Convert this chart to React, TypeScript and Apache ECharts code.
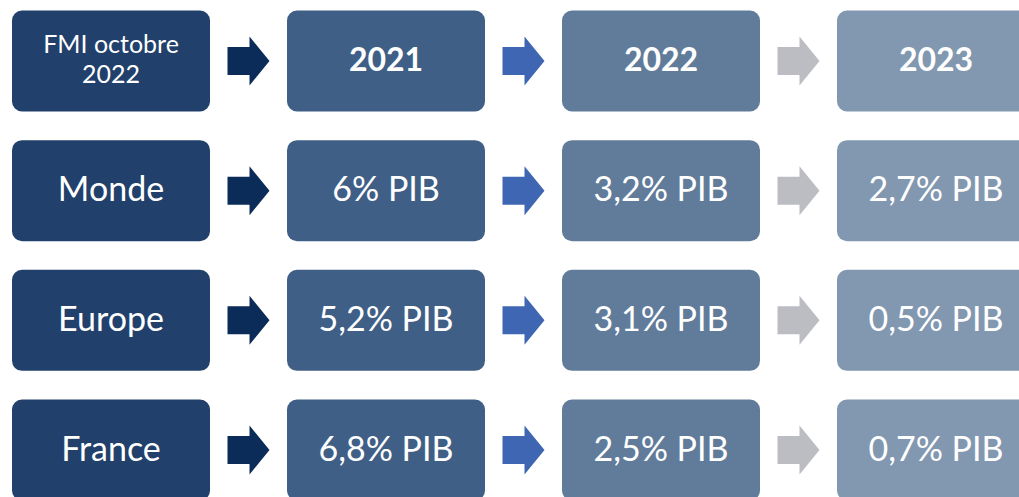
import React, { useEffect, useRef } from "react";
import * as echarts from "echarts";

// Column headers (first row) and row labels (first column)
const headers = ["FMI octobre\n2022", "2021", "2022", "2023"];
const regions = ["Monde", "Europe", "France"];
// Growth forecasts, % of GDP
const growth2021 = [6, 5.2, 6.8];
const growth2022 = [3.2, 3.1, 2.5];
const growth2023 = [2.7, 0.5, 0.7];

const boxColors = ["#21406B", "#3F5F86", "#617C9A", "#8297B0"];
const arrowColors = ["#0B2B58", "#3E66B2", "#BCBCC3"];

const fmt = (v: number) => String(v).replace(".", ",") + "% PIB";

export default function App() {
  const ref = useRef<HTMLDivElement>(null);
  useEffect(() => {
    if (!ref.current) return;
    const chart = echarts.init(ref.current, null, { renderer: "svg" });
    const rowsCat = ["header", ...regions];
    const cols = [0, 1, 2, 3];
    const data: any[] = [];
    headers.forEach((h, c) => data.push({ value: [c, 0], label: h, header: true }));
    regions.forEach((r, i) => {
      data.push({ value: [0, i + 1], label: r, header: false });
      data.push({ value: [1, i + 1], label: fmt(growth2021[i]), header: false });
      data.push({ value: [2, i + 1], label: fmt(growth2022[i]), header: false });
      data.push({ value: [3, i + 1], label: fmt(growth2023[i]), header: false });
    });
    const W = 198;
    const H = 101;
    chart.setOption({
      animation: false,
      grid: { left: 111, right: 83, top: 61, bottom: 47 },
      xAxis: {
        type: "category",
        data: cols,
        boundaryGap: false,
        show: false,
      },
      yAxis: {
        type: "category",
        data: rowsCat,
        boundaryGap: false,
        inverse: true,
        show: false,
      },
      series: [
        {
          type: "custom",
          clip: false,
          data,
          renderItem: (params: any, api: any) => {
            const c = api.value(0);
            const r = api.value(1);
            const item = data[params.dataIndex];
            const [cx, cy] = api.coord([c, r]);
            const children: any[] = [
              {
                type: "rect",
                shape: { x: cx - W / 2, y: cy - H / 2, width: W, height: H, r: 10 },
                style: { fill: boxColors[c] },
              },
            ];
            let font = "34px Lato";
            let lineHeight = 40;
            if (item.header && c === 0) {
              font = "25px Lato";
              lineHeight = 30;
            } else if (item.header) {
              font = "bold 32px Lato";
            }
            children.push({
              type: "text",
              x: cx,
              y: cy - 3,
              style: {
                text: item.label,
                fill: "#FFFFFF",
                font,
                lineHeight,
                align: "center",
                verticalAlign: "middle",
              },
            });
            if (c < 3) {
              const [nx] = api.coord([c + 1, r]);
              const mx = (cx + nx) / 2;
              const hw = 21;
              const neck = mx + 1;
              children.push({
                type: "polygon",
                shape: {
                  points: [
                    [mx - hw, cy - 14],
                    [neck, cy - 14],
                    [neck, cy - 24.5],
                    [mx + hw, cy],
                    [neck, cy + 24.5],
                    [neck, cy + 14],
                    [mx - hw, cy + 14],
                  ],
                },
                style: { fill: arrowColors[c] },
              });
            }
            return { type: "group", children };
          },
        },
      ],
    });
    return () => chart.dispose();
  }, []);
  return (
    <div
      ref={ref}
      style={{ position: "fixed", left: 0, top: 0, width: 1019, height: 497, background: "#FFFFFF" }}
    />
  );
}
